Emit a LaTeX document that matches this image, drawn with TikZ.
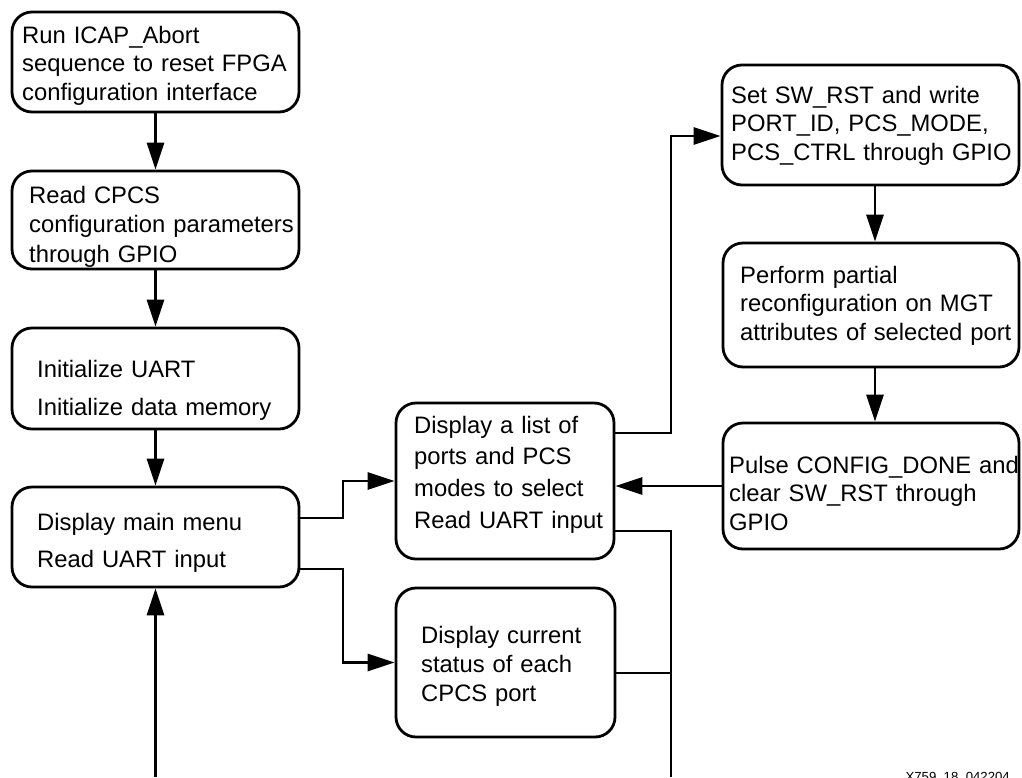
\documentclass[tikz,border=0pt]{standalone}
\usepackage{fontspec}
\setmainfont{Liberation Sans}
\usetikzlibrary{arrows.meta}
\begin{document}
\begin{tikzpicture}[x=1pt,y=-1pt,
  box/.style={draw, rounded corners=20pt, line width=2.8pt, inner sep=0pt},
  txt/.style={font=\fontsize{23.8}{#1}\selectfont, anchor=base west, inner sep=0pt, text width=320pt, align=left},
  conn/.style={line width=2.8pt},
  arr/.style={line width=2.8pt, -{Triangle[length=27pt,width=17pt]}}]
\useasboundingbox (0,0) rectangle (1022,777);
% left column
\node[box, minimum width=287pt, minimum height=100pt] (A) at (155.5,62) {};
\node[box, minimum width=287pt, minimum height=98pt] (B) at (155.5,220) {};
\node[box, minimum width=287pt, minimum height=101pt] (C) at (155.5,378.5) {};
\node[box, minimum width=287pt, minimum height=100pt] (D) at (155.5,537) {};
% middle column
\node[box, minimum width=218pt, minimum height=156pt] (M1) at (505,481) {};
\node[box, minimum width=219pt, minimum height=149pt] (M2) at (505.5,662.5) {};
% right column
\node[box, minimum width=297pt, minimum height=120pt] (R1) at (870.5,125) {};
\node[box, minimum width=296pt, minimum height=124pt] (R2) at (871,305) {};
\node[box, minimum width=296pt, minimum height=126pt] (R3) at (871,486) {};
% texts
\node[txt=28.5pt] (tA) at (22,43) {Run ICAP\_Abort\\sequence to reset FPGA\\configuration interface};
\node[txt=29.5pt] (tB) at (29,203) {Read CPCS\\configuration parameters\\through GPIO};
\node[txt=38pt] (tC) at (37,377) {Initialize UART\\Initialize data memory};
\node[txt=37.5pt] (tD) at (37,530) {Display main menu\\Read UART input};
\node[txt=31.7pt] (tM1) at (414,433) {Display a list of\\ports and PCS\\modes to select\\Read UART input};
\node[txt=29pt] (tM2) at (421,643) {Display current\\status of each\\CPCS port};
\node[txt=28.5pt] (tR1) at (731,103) {Set SW\_RST and write\\PORT\_ID, PCS\_MODE,\\PCS\_CTRL through GPIO};
\node[txt=28.5pt] (tR2) at (740,283) {Perform partial\\reconfiguration on MGT\\attributes of selected port};
\node[txt=28.5pt] (tR3) at (729,473) {Pulse CONFIG\_DONE and\\clear SW\_RST through\\GPIO};
\node[font=\fontsize{13.2}{15}\selectfont, anchor=base east, inner sep=0pt] (lbl) at (1010,781) {X759\_18\_042204};
% free ends
\coordinate (bl) at (155.5,777);
\coordinate (br) at (671,777);
% connectors
\draw[arr] (A.south) -- (B.north);
\draw[arr] (B.south) -- (C.north);
\draw[arr] (C.south) -- (D.north);
\draw[arr] (bl) -- (D.south);
\draw[arr] (D.east |- 0,518) -- (343,518) -- (343,481) -- (M1.west);
\draw[arr] (D.east |- 0,569) -- (343,569) -- (343,662.5) -- (M2.west);
\draw[arr] (M1.east |- 0,433) -- (671,433) -- (671,136) -- (R1.west |- 0,136);
\draw[arr] (R1.south -| 875,0) -- (R2.north -| 875,0);
\draw[arr] (R2.south -| 875,0) -- (R3.north -| 875,0);
\draw[arr] (R3.west) -- (M1.east |- R3.west);
\draw[conn] (M1.east |- 0,531) -- (671,531) -- (br);
\draw[conn] (M2.east |- 0,673) -- (671,673);
\end{tikzpicture}
\end{document}
